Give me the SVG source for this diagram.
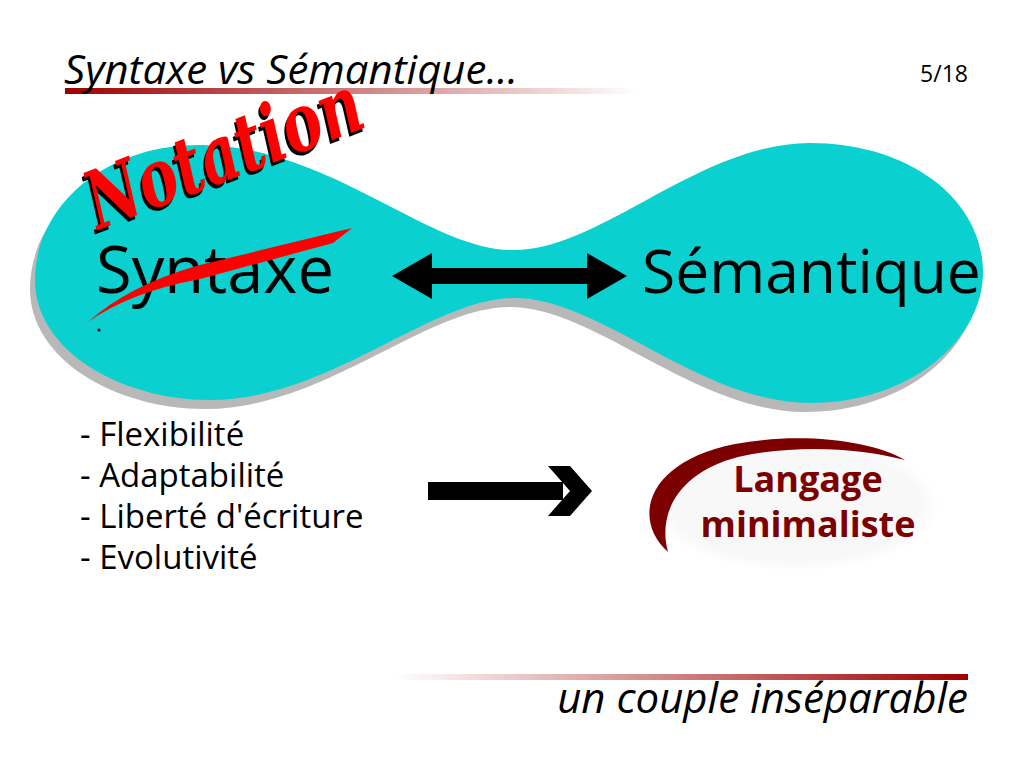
<svg xmlns="http://www.w3.org/2000/svg" width="1024" height="768" viewBox="0 0 1024 768">
<defs>
<style>
.sans{font-family:"Open Sans","Noto Sans","DejaVu Sans",sans-serif;}
.big{fill:#000;}
.bul{font-size:33px;fill:#000;}
.lang{font-size:36px;font-weight:bold;fill:#7d0000;text-anchor:middle;}
.ital{font-style:italic;fill:#000;}
</style>
<linearGradient id="gTop" x1="0" y1="0" x2="1" y2="0">
<stop offset="0" stop-color="#9e0000"/>
<stop offset="1" stop-color="#9e0000" stop-opacity="0"/>
</linearGradient>
<linearGradient id="gBot" x1="0" y1="0" x2="1" y2="0">
<stop offset="0" stop-color="#9e0000" stop-opacity="0"/>
<stop offset="1" stop-color="#9e0000"/>
</linearGradient>
<radialGradient id="gEll" cx="0.5" cy="0.5" r="0.5">
<stop offset="0" stop-color="#f8f8f8"/>
<stop offset="0.85" stop-color="#f8f8f8"/>
<stop offset="1" stop-color="#ffffff"/>
</radialGradient>
<path id="blob" d="M 515 250 C 430 252 330 145 200 145 C 100 145 35 210 35 280 C 35 350 120 400 210 400 C 330 400 430 298 515 298 C 600 298 700 403 810 403 C 910 403 983 340 983 272 C 983 200 910 143 810 143 C 700 143 600 250 515 250 Z"/>
</defs>
<rect width="1024" height="768" fill="#fff"/>

<g id="header">
<rect x="65" y="88" width="575" height="6" fill="url(#gTop)"/>
<text class="sans ital" x="64" y="84" font-size="40" textLength="454" lengthAdjust="spacingAndGlyphs">Syntaxe vs Sémantique...</text>
<text class="sans" x="968" y="82" font-size="23" text-anchor="end">5/18</text>
</g>

<g id="blob-shape">
<use href="#blob" transform="translate(-5,9)" fill="#b8b8b8"/>
<use href="#blob" fill="#0ad0d0"/>
</g>

<g id="syntaxe">
<text class="sans big" x="96" y="293" font-size="65">Syntaxe</text>
<path d="M 88 322 Q 130 292 200 279 L 333 243 L 352 228 L 196 266 Q 128 286 88 322 Z" fill="#ff0000"/>
<circle cx="99" cy="330" r="1.5" fill="#000"/>
</g>

<g id="notation" transform="translate(98,230) rotate(-21)">
<text x="-3" y="3" font-family="'DejaVu Serif','Liberation Serif',serif" font-style="italic" font-weight="bold" font-size="80" textLength="290" lengthAdjust="spacingAndGlyphs" fill="#000">Notation</text>
<text x="0" y="0" font-family="'DejaVu Serif','Liberation Serif',serif" font-style="italic" font-weight="bold" font-size="80" textLength="290" lengthAdjust="spacingAndGlyphs" fill="#ff0000">Notation</text>
</g>

<g id="semantique">
<text class="sans big" x="642" y="293" font-size="60.5">Sémantique</text>
</g>

<g id="list">
<text class="sans bul" x="80" y="446">- Flexibilité</text>
<text class="sans bul" x="80" y="487">- Adaptabilité</text>
<text class="sans bul" x="80" y="528">- Liberté d'écriture</text>
<text class="sans bul" x="80" y="569">- Evolutivité</text>
</g>

<g id="langage">
<ellipse cx="795" cy="505" rx="145" ry="66" fill="url(#gEll)"/>
<path d="M 668 552 C 632 520 645 462 735 444 C 800 432 870 440 905 460 C 860 448 795 444 738 457 C 680 472 657 512 668 552 Z" fill="#7d0000"/>
<text class="sans lang" x="808" y="492">Langage</text>
<text class="sans lang" x="808" y="537">minimaliste</text>
</g>

<g id="connectors">
<polygon points="392,276 432,253 432,268 587,268 587,253 627,276 587,299 587,284 432,284 432,299" fill="#000"/>
<rect x="428" y="482" width="135" height="18" fill="#000"/>
<polygon points="548,466 570,466 592,491 570,516 548,516 570,491" fill="#000"/>
</g>

<g id="footer">
<rect x="395" y="674" width="573" height="6" fill="url(#gBot)"/>
<text class="sans ital" x="968" y="713" font-size="42" text-anchor="end">un couple inséparable</text>
</g>
</svg>
